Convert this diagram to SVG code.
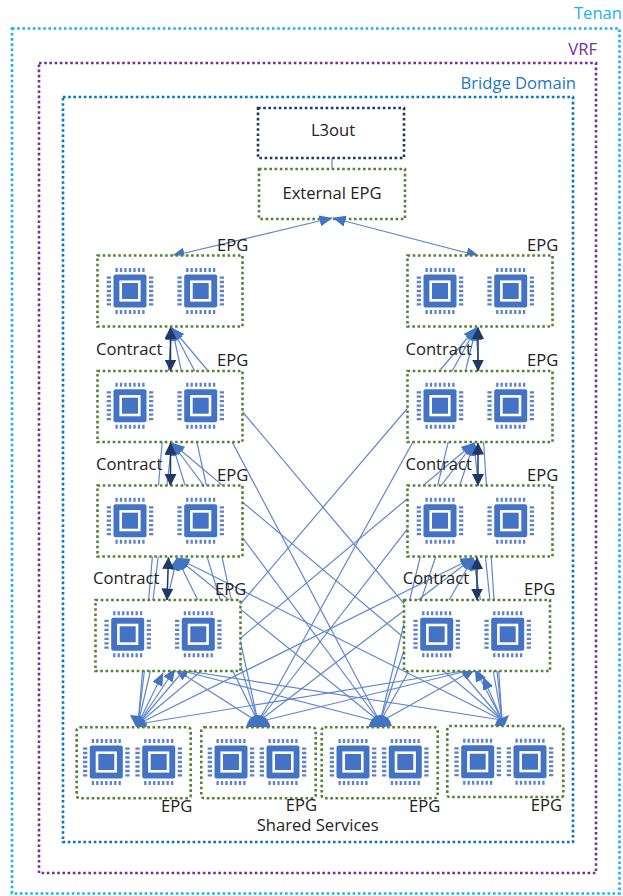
<svg xmlns="http://www.w3.org/2000/svg" width="623" height="896" viewBox="0 0 623 896">
<style>
.box{fill:none;stroke-width:2.6;stroke-dasharray:2.6 2.6}
.epg{fill:#fff;stroke:#548235;stroke-width:2.6;stroke-dasharray:2.6 2.6}
.t{font-family:"Open Sans","Noto Sans",sans-serif;font-size:16.6px;fill:#222}
.l{stroke:#5f86cf;stroke-width:1.2;fill:none;marker-start:url(#h)}
.d{stroke:#1f3864;stroke-width:1.5;fill:none;marker-start:url(#k);marker-end:url(#k)}
.fan{fill:#4472c4}
</style>
<defs>
<marker id="h" markerUnits="userSpaceOnUse" markerWidth="14" markerHeight="12" refX="12.5" refY="5.5" orient="auto-start-reverse"><path d="M13,5.5L0,0V11Z" fill="#4472c4"/></marker>
<marker id="k" markerUnits="userSpaceOnUse" markerWidth="13" markerHeight="13" refX="11.5" refY="6" orient="auto-start-reverse"><path d="M12,6L0,0V12Z" fill="#1f3864"/></marker>
<g id="chip">
<rect x="-16.5" y="-16.5" width="33" height="33" rx="2" fill="#4472c4"/>
<rect x="-9.3" y="-9.3" width="18.6" height="18.6" fill="#4472c4" stroke="#fff" stroke-width="2.6"/>
<path d="M-13.4,-23V-19M-9,-23V-19M-4.5,-23V-19M0,-23V-19M4.5,-23V-19M9,-23V-19M13.4,-23V-19M-13.4,19V23M-9,19V23M-4.5,19V23M0,19V23M4.5,19V23M9,19V23M13.4,19V23M-23.3,-13.4H-19M-23.3,-9H-19M-23.3,-4.5H-19M-23.3,0H-19M-23.3,4.5H-19M-23.3,9H-19M-23.3,13.4H-19M19,-13.4H23.3M19,-9H23.3M19,-4.5H23.3M19,0H23.3M19,4.5H23.3M19,9H23.3M19,13.4H23.3" stroke="#5b82cb" stroke-width="2.3" fill="none"/>
</g>
</defs>

<g id="tenant"><rect class="box" x="12" y="28.5" width="607.5" height="865" stroke="#17b3ee"/><text x="622" y="19" text-anchor="end" class="t" style="fill:#17b3ee">Tenan</text></g>
<g id="vrf"><rect class="box" x="39" y="63" width="557" height="810" stroke="#7030a0"/><text x="597" y="55" text-anchor="end" class="t" style="fill:#7030a0">VRF</text></g>
<g id="bridge-domain"><rect class="box" x="63" y="97" width="510" height="745" stroke="#0a72c2"/><text x="576" y="89" text-anchor="end" class="t" style="fill:#1a78c6">Bridge Domain</text></g>

<g id="l3out"><rect class="box" x="258" y="108" width="146" height="50" stroke="#1f3864"/><text x="333" y="136" text-anchor="middle" class="t">L3out</text></g>
<g id="external-epg"><rect class="epg" x="259" y="169" width="146" height="50"/><text x="332" y="199" text-anchor="middle" class="t">External EPG</text></g>

<g id="connectors">
<path d="M332,158V169" stroke="#5a82cb" stroke-width="1.2" fill="none"/>
<path class="l" d="M172,256L332,218" style="marker-end:url(#h)"/>
<path class="l" d="M479,256L333,218" style="marker-end:url(#h)"/>
<path class="l" d="M172,328L138,724"/><path class="l" d="M172,328L258,722"/><path class="l" d="M172,328L380,722"/><path class="l" d="M172,328L502,720"/>
<path class="l" d="M172,443L138,724"/><path class="l" d="M172,443L258,722"/><path class="l" d="M172,443L380,722"/><path class="l" d="M172,443L502,720"/>
<path class="l" d="M177,558L138,724"/><path class="l" d="M177,558L258,722"/><path class="l" d="M177,558L380,722"/><path class="l" d="M177,558L502,720"/>
<path class="l" d="M163,673L138,724"/><path class="l" d="M175,669L138,724"/><path class="l" d="M175,669L258,722"/><path class="l" d="M175,669L380,722"/><path class="l" d="M175,669L502,720"/>
<path class="l" d="M476,328L138,724"/><path class="l" d="M476,328L258,722"/><path class="l" d="M476,328L380,722"/><path class="l" d="M476,328L502,720"/>
<path class="l" d="M474,443L138,724"/><path class="l" d="M474,443L258,722"/><path class="l" d="M474,443L380,722"/><path class="l" d="M474,443L502,720"/>
<path class="l" d="M473,558L138,724"/><path class="l" d="M473,558L258,722"/><path class="l" d="M473,558L380,722"/><path class="l" d="M473,558L502,720"/>
<path class="l" d="M475,669L138,724"/><path class="l" d="M475,669L258,722"/><path class="l" d="M475,669L380,722"/><path class="l" d="M475,669L502,720"/><path class="l" d="M483,677L502,720"/>
<path class="fan" d="M130,715L141,716L147,724L146,730L136,727Z"/>
<path class="fan" d="M246,727Q249,715 258,715Q268,715 271,729Z"/>
<path class="fan" d="M368,729Q371,715 380,715Q389,715 392,726Z"/>
<path class="fan" d="M493,730L497,720L509,715L505,725Z"/>
</g>

<g id="epg-l1"><rect class="epg" x="97.5" y="255.5" width="145" height="71"/><use href="#chip" x="130" y="291"/><use href="#chip" x="200.7" y="291"/></g>
<g id="epg-l2"><rect class="epg" x="97.5" y="371" width="145" height="71"/><use href="#chip" x="130" y="405.7"/><use href="#chip" x="200.7" y="405.7"/></g>
<g id="epg-l3"><rect class="epg" x="97.5" y="485.5" width="145" height="71"/><use href="#chip" x="130" y="520.7"/><use href="#chip" x="200.7" y="520.7"/></g>
<g id="epg-l4"><rect class="epg" x="95.5" y="600" width="145" height="71"/><use href="#chip" x="127.7" y="634.3"/><use href="#chip" x="198.3" y="634.3"/></g>
<g id="epg-r1"><rect class="epg" x="407.5" y="255.5" width="145" height="71"/><use href="#chip" x="440" y="291"/><use href="#chip" x="510.7" y="291"/></g>
<g id="epg-r2"><rect class="epg" x="407.5" y="371" width="145" height="71"/><use href="#chip" x="440" y="405.7"/><use href="#chip" x="510.7" y="405.7"/></g>
<g id="epg-r3"><rect class="epg" x="407.5" y="485.5" width="145" height="71"/><use href="#chip" x="440" y="520.7"/><use href="#chip" x="510.7" y="520.7"/></g>
<g id="epg-r4"><rect class="epg" x="404" y="600" width="146" height="71"/><use href="#chip" x="436.7" y="634.3"/><use href="#chip" x="507.7" y="634.3"/></g>
<g id="epg-s1"><rect class="epg" x="76.7" y="727.3" width="114" height="71" rx="3"/><use href="#chip" x="106.3" y="762"/><use href="#chip" x="158.7" y="762"/></g>
<g id="epg-s2"><rect class="epg" x="201.3" y="727.3" width="114.4" height="71" rx="3"/><use href="#chip" x="231" y="762"/><use href="#chip" x="283" y="762"/></g>
<g id="epg-s3"><rect class="epg" x="321.7" y="727.3" width="116" height="71" rx="3"/><use href="#chip" x="353" y="762"/><use href="#chip" x="405.3" y="762"/></g>
<g id="epg-s4"><rect class="epg" x="447.3" y="726" width="116" height="71" rx="2"/><use href="#chip" x="477.7" y="761.7"/><use href="#chip" x="530" y="761.7"/></g>

<g id="contracts">
<path class="d" d="M170.5,327.5V371"/><path class="d" d="M170.5,443V485.5"/><path class="d" d="M168.5,557.5L167,600"/>
<path class="d" d="M478,327.5V371"/><path class="d" d="M478,443V485.5"/><path class="d" d="M477,557.5V600"/>
</g>

<g id="labels">
<text class="t" x="217" y="251">EPG</text><text class="t" x="527" y="251">EPG</text>
<text class="t" x="217" y="366">EPG</text><text class="t" x="527" y="366">EPG</text>
<text class="t" x="217" y="481">EPG</text><text class="t" x="527" y="481">EPG</text>
<text class="t" x="215" y="595">EPG</text><text class="t" x="524" y="595">EPG</text>
<text class="t" x="96" y="355">Contract</text><text class="t" x="405.5" y="355">Contract</text>
<text class="t" x="96" y="470">Contract</text><text class="t" x="405.5" y="470">Contract</text>
<text class="t" x="93" y="584">Contract</text><text class="t" x="402.7" y="584">Contract</text>
<text class="t" x="161" y="812">EPG</text><text class="t" x="285.7" y="811">EPG</text><text class="t" x="409" y="812">EPG</text><text class="t" x="530.7" y="811">EPG</text>
<text class="t" x="256.7" y="831">Shared Services</text>
</g>
</svg>
